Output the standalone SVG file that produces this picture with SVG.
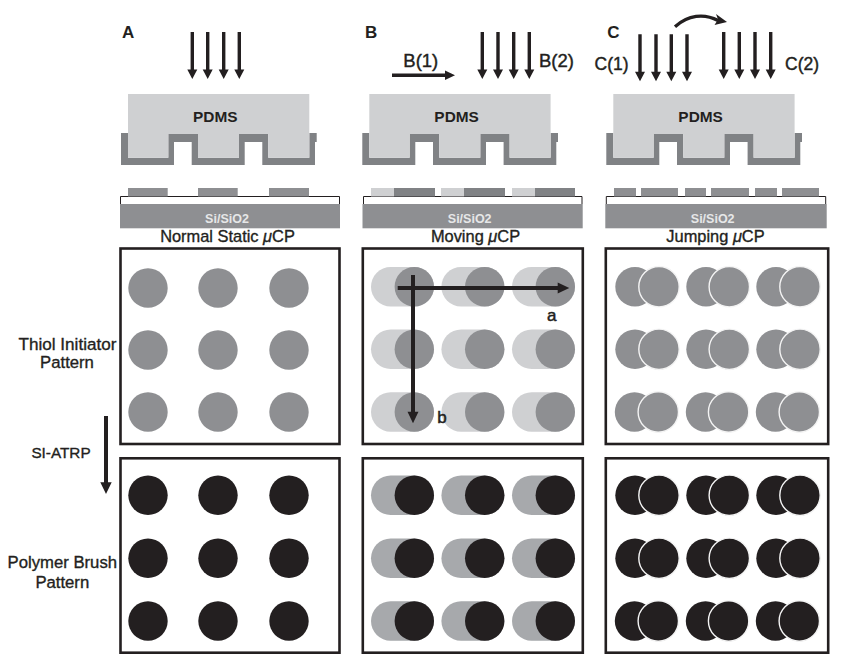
<svg xmlns="http://www.w3.org/2000/svg" xmlns:xlink="http://www.w3.org/1999/xlink" width="845" height="665" viewBox="0 0 845 665">
<style>
text{font-family:"Liberation Sans",Arial,sans-serif;fill:#231f20}
.h{font-size:17px;font-weight:bold}
.l{font-size:18.5px;stroke:#231f20;stroke-width:.4px}
.m{font-size:16.7px;text-anchor:middle;stroke:#231f20;stroke-width:.35px}
.p{font-size:15.4px;font-weight:bold;text-anchor:middle}
.s{font-size:12.5px;font-weight:bold;text-anchor:middle;fill:#e6e7e8}
.t{font-size:16.4px;text-anchor:middle;stroke:#231f20;stroke-width:.35px}
.ab{font-size:17px;stroke:#231f20;stroke-width:.5px}
.frame{fill:#fff;stroke:#231f20;stroke-width:2.6}
.sh{stroke:#231f20;fill:none}
.ah{fill:#231f20}
.g{fill:#8e8f92}
.lg{fill:#cfd0d2}
.mg{fill:#a7a9ac}
.k{fill:#231f20}
.base{fill:none;stroke:#231f20;stroke-width:1}
.jt{stroke:#f4f4f4;stroke-width:1.4}
</style>
<defs>
<g id="stamp">
<path fill="#808285" d="M121 133H128V157.7H168.3V134H198V157.7H239V134H268.3V157.7H309.3V133H316.7V142H315V165H262.3V142H244.7V165H191.7V142H174V165H121Z"/>
<path fill="#cfd0d2" d="M128 94H309.3V157.7H268.3V134H239V157.7H198V134H168.3V157.7H128Z"/>
<text class="p" x="215.3" y="122">PDMS</text>
</g>
<path id="ar" class="ah" d="M-5 -9.5H-1.7V-47H1.7V-9.5H5L0 0Z"/>
<g id="pillM"><rect x="-43.3" y="-19.7" width="63" height="39.4" rx="19.7"/></g>
</defs>

<g id="panel-A-top">
<text class="h" x="122" y="38">A</text>
<g id="arrows-A">
<use xlink:href="#ar" x="192.3" y="79"/><use xlink:href="#ar" x="207.7" y="79"/><use xlink:href="#ar" x="223.7" y="79"/><use xlink:href="#ar" x="239.3" y="79"/>
</g>
<use xlink:href="#stamp"/>
<path class="base" d="M120.5 204V196.5H339.5V204"/>
<g class="g"><rect x="128" y="188" width="39.7" height="8.5"/><rect x="198" y="188" width="39.7" height="8.5"/><rect x="269" y="188" width="40" height="8.5"/></g>
<rect class="g" x="120" y="204" width="220" height="24.3"/>
<text class="s" x="227" y="222.7">Si/SiO2</text>
<text class="t" x="227.5" y="241.7">Normal Static <tspan font-style="italic">μ</tspan>CP</text>
</g>

<g id="panel-B-top">
<text class="h" x="365" y="38">B</text>
<text class="l" x="403.3" y="67">B(1)</text>
<text class="l" x="539" y="67">B(2)</text>
<path class="ah" d="M392 73.6H445V70.5L455 75.3L445 80V77H392Z"/>
<g id="arrows-B">
<use xlink:href="#ar" x="482.3" y="79"/><use xlink:href="#ar" x="498" y="79"/><use xlink:href="#ar" x="513.7" y="79"/><use xlink:href="#ar" x="529.3" y="79"/>
</g>
<use xlink:href="#stamp" x="241.3"/>
<path class="base" d="M363.5 204V196.5H582V204"/>
<g class="lg"><rect x="371" y="188" width="23" height="8.5"/><rect x="441" y="188" width="23" height="8.5"/><rect x="512" y="188" width="23" height="8.5"/></g>
<g fill="#808285"><rect x="394" y="188" width="41" height="8.5"/><rect x="464" y="188" width="41" height="8.5"/><rect x="535" y="188" width="40" height="8.5"/></g>
<rect class="g" x="362.5" y="204" width="220.2" height="24.3"/>
<text class="s" x="469.7" y="222.7">Si/SiO2</text>
<text class="t" x="475.5" y="241.7">Moving <tspan font-style="italic">μ</tspan>CP</text>
</g>

<g id="panel-C-top">
<text class="h" x="607.3" y="38">C</text>
<text class="l" x="594.5" y="69.5" font-size="17.5" style="font-size:17.5px">C(1)</text>
<text class="l" x="785" y="70" style="font-size:17.5px">C(2)</text>
<path class="sh" stroke-width="3.3" d="M675 26.7C688 15 704 13 718 20.5"/>
<path class="ah" d="M727 22L714.5 25L718 19.5L716 14Z"/>
<g id="arrows-C">
<use xlink:href="#ar" x="640" y="81.3"/><use xlink:href="#ar" x="656" y="81.3"/><use xlink:href="#ar" x="671.3" y="81.3"/><use xlink:href="#ar" x="687" y="81.3"/>
<use xlink:href="#ar" x="723.7" y="79"/><use xlink:href="#ar" x="739.3" y="79"/><use xlink:href="#ar" x="755" y="79"/><use xlink:href="#ar" x="770.7" y="79"/>
</g>
<use xlink:href="#stamp" x="485.3"/>
<path class="base" d="M606.3 204V196.5H825.7V204"/>
<g class="g"><rect x="614" y="188" width="22" height="8.5"/><rect x="641" y="188" width="37" height="8.5"/><rect x="685" y="188" width="21" height="8.5"/><rect x="711" y="188" width="38" height="8.5"/><rect x="755" y="188" width="22" height="8.5"/><rect x="782" y="188" width="37" height="8.5"/></g>
<rect class="g" x="605.3" y="204" width="221.4" height="24.3"/>
<text class="s" x="712.7" y="222.7">Si/SiO2</text>
<text class="t" x="715.5" y="241.7">Jumping <tspan font-style="italic">μ</tspan>CP</text>
</g>

<g id="side-labels">
<text class="m" x="67.5" y="350" style="font-size:17.1px">Thiol Initiator</text>
<text class="m" x="67" y="368">Pattern</text>
<text class="m" x="61" y="458" style="font-size:15.3px">SI-ATRP</text>
<text class="m" x="62.3" y="568">Polymer Brush</text>
<text class="m" x="62.3" y="587.5">Pattern</text>
<path class="ah" d="M104 416H108V482.3H111.7L106 494L100.3 482.3H104Z"/>
</g>

<g id="pattern-A-thiol">
<rect class="frame" x="120.5" y="248.5" width="219" height="195.5"/>
<g class="g">
<circle cx="148" cy="288" r="19.7"/><circle cx="218" cy="288" r="19.7"/><circle cx="289" cy="288" r="19.7"/>
<circle cx="148" cy="350" r="19.7"/><circle cx="218" cy="350" r="19.7"/><circle cx="289" cy="350" r="19.7"/>
<circle cx="148" cy="412" r="19.7"/><circle cx="218" cy="412" r="19.7"/><circle cx="289" cy="412" r="19.7"/>
</g>
</g>
<g id="pattern-A-brush">
<rect class="frame" x="120.5" y="458.3" width="219" height="194.4"/>
<g class="k">
<circle cx="148" cy="495.3" r="19.7"/><circle cx="218" cy="495.3" r="19.7"/><circle cx="289" cy="495.3" r="19.7"/>
<circle cx="148" cy="558.3" r="19.7"/><circle cx="218" cy="558.3" r="19.7"/><circle cx="289" cy="558.3" r="19.7"/>
<circle cx="148" cy="621" r="19.7"/><circle cx="218" cy="621" r="19.7"/><circle cx="289" cy="621" r="19.7"/>
</g>
</g>

<g id="pattern-B-thiol">
<rect class="frame" x="362.8" y="248.5" width="220" height="195.5"/>
<g class="lg">
<use xlink:href="#pillM" x="414.3" y="286.7"/><use xlink:href="#pillM" x="484.7" y="286.7"/><use xlink:href="#pillM" x="555.3" y="286.7"/>
<use xlink:href="#pillM" x="414.3" y="349.3"/><use xlink:href="#pillM" x="484.7" y="349.3"/><use xlink:href="#pillM" x="555.3" y="349.3"/>
<use xlink:href="#pillM" x="414.3" y="412"/><use xlink:href="#pillM" x="484.7" y="412"/><use xlink:href="#pillM" x="555.3" y="412"/>
</g>
<g class="g">
<circle cx="414.3" cy="286.7" r="19.7"/><circle cx="484.7" cy="286.7" r="19.7"/><circle cx="555.3" cy="286.7" r="19.7"/>
<circle cx="414.3" cy="349.3" r="19.7"/><circle cx="484.7" cy="349.3" r="19.7"/><circle cx="555.3" cy="349.3" r="19.7"/>
<circle cx="414.3" cy="412" r="19.7"/><circle cx="484.7" cy="412" r="19.7"/><circle cx="555.3" cy="412" r="19.7"/>
</g>
<g id="connectors-B">
<path class="ah" d="M397.7 286H557.7V282.5L569.3 288L557.7 293.5V290H397.7Z"/>
<path class="ah" d="M411 275H415V411.7H418.5L413 423.3L407.5 411.7H411Z"/>
</g>
<text class="ab" x="547" y="321">a</text>
<text class="ab" x="437.3" y="422.7">b</text>
</g>
<g id="pattern-B-brush">
<rect class="frame" x="362.8" y="458.3" width="220" height="194.4"/>
<g class="mg">
<use xlink:href="#pillM" x="414.3" y="495.3"/><use xlink:href="#pillM" x="484.7" y="495.3"/><use xlink:href="#pillM" x="555.3" y="495.3"/>
<use xlink:href="#pillM" x="414.3" y="558.3"/><use xlink:href="#pillM" x="484.7" y="558.3"/><use xlink:href="#pillM" x="555.3" y="558.3"/>
<use xlink:href="#pillM" x="414.3" y="621"/><use xlink:href="#pillM" x="484.7" y="621"/><use xlink:href="#pillM" x="555.3" y="621"/>
</g>
<g class="k">
<circle cx="414.3" cy="495.3" r="19.7"/><circle cx="484.7" cy="495.3" r="19.7"/><circle cx="555.3" cy="495.3" r="19.7"/>
<circle cx="414.3" cy="558.3" r="19.7"/><circle cx="484.7" cy="558.3" r="19.7"/><circle cx="555.3" cy="558.3" r="19.7"/>
<circle cx="414.3" cy="621" r="19.7"/><circle cx="484.7" cy="621" r="19.7"/><circle cx="555.3" cy="621" r="19.7"/>
</g>
</g>

<g id="pattern-C-thiol">
<rect class="frame" x="605.8" y="248.5" width="222.4" height="195.5"/>
<g class="g">
<circle cx="635" cy="286.7" r="19.7"/><circle cx="706" cy="286.7" r="19.7"/><circle cx="776" cy="286.7" r="19.7"/>
<circle cx="635" cy="349.3" r="19.7"/><circle cx="706" cy="349.3" r="19.7"/><circle cx="776" cy="349.3" r="19.7"/>
<circle cx="634.5" cy="412" r="19.7"/><circle cx="705.5" cy="412" r="19.7"/><circle cx="775.5" cy="412" r="19.7"/>
</g>
<g class="g jt">
<circle cx="659" cy="286.7" r="20.2"/><circle cx="729.3" cy="286.7" r="20.2"/><circle cx="800" cy="286.7" r="20.2"/>
<circle cx="659" cy="349.3" r="20.2"/><circle cx="729.3" cy="349.3" r="20.2"/><circle cx="800" cy="349.3" r="20.2"/>
<circle cx="658.3" cy="412" r="20.2"/><circle cx="728.6" cy="412" r="20.2"/><circle cx="799.3" cy="412" r="20.2"/>
</g>
</g>
<g id="pattern-C-brush">
<rect class="frame" x="605.8" y="458.3" width="222.4" height="194.4"/>
<g class="k">
<circle cx="635" cy="495.3" r="19.7"/><circle cx="706" cy="495.3" r="19.7"/><circle cx="776" cy="495.3" r="19.7"/>
<circle cx="635" cy="558.3" r="19.7"/><circle cx="706" cy="558.3" r="19.7"/><circle cx="776" cy="558.3" r="19.7"/>
<circle cx="634.5" cy="621" r="19.7"/><circle cx="705.5" cy="621" r="19.7"/><circle cx="775.5" cy="621" r="19.7"/>
</g>
<g class="k jt">
<circle cx="659" cy="495.3" r="20.2"/><circle cx="729.3" cy="495.3" r="20.2"/><circle cx="800" cy="495.3" r="20.2"/>
<circle cx="659" cy="558.3" r="20.2"/><circle cx="729.3" cy="558.3" r="20.2"/><circle cx="800" cy="558.3" r="20.2"/>
<circle cx="658.3" cy="621" r="20.2"/><circle cx="728.6" cy="621" r="20.2"/><circle cx="799.3" cy="621" r="20.2"/>
</g>
</g>
</svg>
